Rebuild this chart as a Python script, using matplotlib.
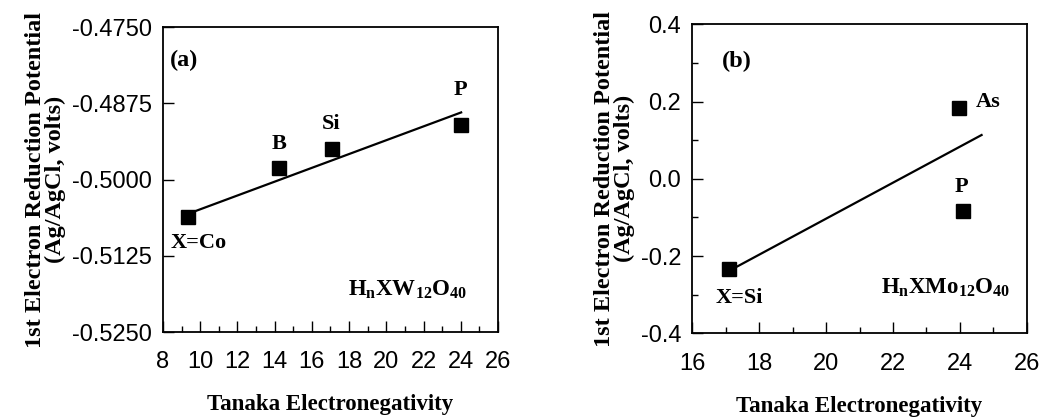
import matplotlib
matplotlib.use("Agg")
import matplotlib.pyplot as plt
from matplotlib.ticker import MultipleLocator, FormatStrFormatter

# ---- data: panel (a) H_nXW12O40 ----
a_elements = ["X=Co", "B", "Si", "P"]
a_x = [9.36, 14.25, 17.07, 24.02]
a_y = [-0.5061, -0.4981, -0.4950, -0.4911]
a_fit_x = [9.81, 24.02]
a_fit_y = [-0.5051, -0.4890]

# ---- data: panel (b) H_nXMo12O40 ----
b_elements = ["X=Si", "As", "P"]
b_x = [17.10, 23.98, 24.09]
b_y = [-0.234, 0.1825, -0.0834]
b_fit_x = [17.33, 24.65]
b_fit_y = [-0.2276, 0.1134]

xlabel = "Tanaka Electronegativity"
ylabel = "1st Electron Reduction Potential\n(Ag/AgCl, volts)"

serif = ["Liberation Serif", "DejaVu Serif"]
sans = ["Liberation Sans", "DejaVu Sans"]
plt.rcParams['font.family'] = sans
plt.rcParams['mathtext.fontset'] = 'custom'
plt.rcParams['mathtext.rm'] = 'Liberation Serif:bold'
plt.rcParams['mathtext.bf'] = 'Liberation Serif:bold'
plt.rcParams['mathtext.it'] = 'Liberation Serif:bold'

fig = plt.figure(figsize=(10.48, 4.17), dpi=100)
axa = fig.add_axes([0.1555, 0.2038, 0.3197, 0.7314])
axb = fig.add_axes([0.6606, 0.2007, 0.3191, 0.7410])

def style(ax):
    for s in ax.spines.values():
        s.set_linewidth(1.3)
    ax.tick_params(which='both', direction='in', labelsize=17, width=1.0)
    ax.tick_params(which='major', length=8)
    ax.tick_params(which='minor', length=4)
    ax.tick_params(axis='x', pad=14)
    ax.tick_params(axis='y', pad=8)
    ax.set_xlabel(xlabel, family=serif, fontweight='bold', fontsize=16.5, labelpad=15)
    ax.set_ylabel(ylabel, family=serif, fontweight='bold', fontsize=17.5, labelpad=4,
                  linespacing=0.95)

# panel (a)
axa.plot(a_fit_x, a_fit_y, color='black', lw=1.6)
axa.plot(a_x, a_y, 's', color='black', ms=10, zorder=3)
axa.set_xlim(8, 26)
axa.set_ylim(-0.525, -0.475)
axa.xaxis.set_major_locator(MultipleLocator(2))
axa.xaxis.set_minor_locator(MultipleLocator(1))
axa.yaxis.set_major_locator(MultipleLocator(0.0125))
axa.yaxis.set_major_formatter(FormatStrFormatter('%.4f'))
style(axa)
tk = dict(family=serif, fontweight='bold', fontsize=16, ha='center', va='center')
pk = dict(family=serif, fontweight='bold', fontsize=17.5, ha='center', va='center')
fk = dict(family=serif, fontweight='bold', fontsize=16.5, ha='left', va='center')
axa.text(9.15, -0.4805, "(a)", **pk)
axa.text(9.94, -0.5104, a_elements[0], **tk)
axa.text(14.25, -0.4942, a_elements[1], **tk)
axa.text(17.03, -0.4909, a_elements[2], **tk)
axa.text(24.0, -0.4853, a_elements[3], **tk)
axa.text(17.95, -0.5181, r"$\mathregular{H_nXW_{12}O_{40}}$", **fk)

# panel (b)
axb.plot(b_fit_x, b_fit_y, color='black', lw=1.6)
axb.plot(b_x, b_y, 's', color='black', ms=10, zorder=3)
axb.set_xlim(16, 26)
axb.set_ylim(-0.4, 0.4)
axb.xaxis.set_major_locator(MultipleLocator(2))
axb.xaxis.set_minor_locator(MultipleLocator(1))
axb.yaxis.set_major_locator(MultipleLocator(0.2))
axb.yaxis.set_minor_locator(MultipleLocator(0.1))
axb.yaxis.set_major_formatter(FormatStrFormatter('%.1f'))
style(axb)
axb.text(17.33, 0.303, "(b)", **pk)
axb.text(17.42, -0.308, b_elements[0], **tk)
axb.text(24.85, 0.1996, b_elements[1], **tk)
axb.text(24.06, -0.0204, b_elements[2], **tk)
axb.text(21.64, -0.283, r"$\mathregular{H_nXMo_{12}O_{40}}$", **fk)

fig.savefig("out.png", dpi=100)
